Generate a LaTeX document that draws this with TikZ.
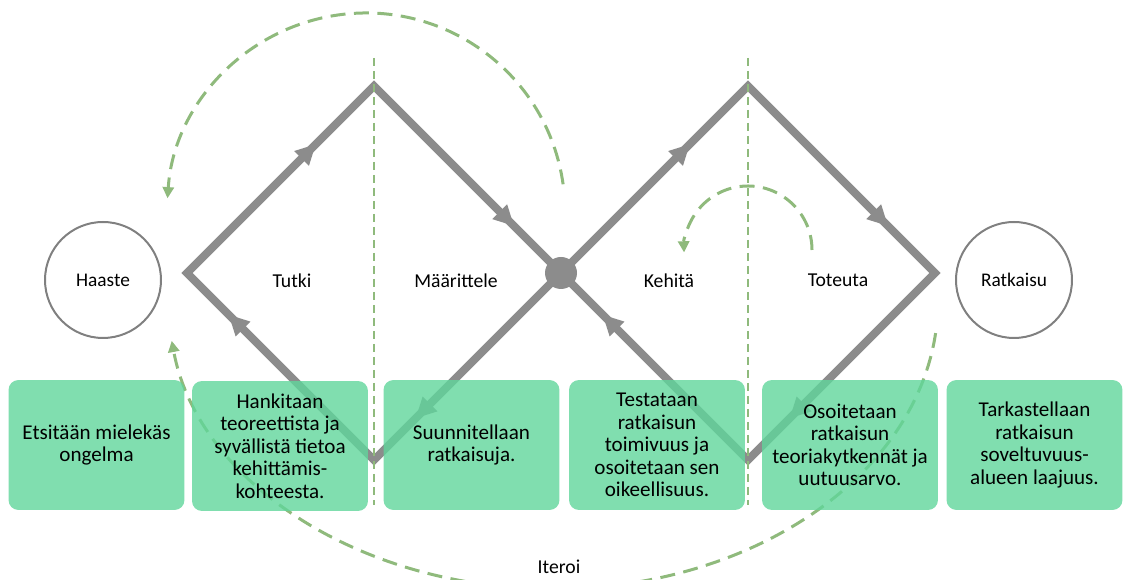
\documentclass[tikz,border=0pt]{standalone}
\usepackage{fontspec}
\setmainfont{Carlito}
\usetikzlibrary{arrows.meta,decorations.markings}

\definecolor{flowgrey}{RGB}{140,140,140}
\definecolor{ringgrey}{RGB}{128,128,128}
\definecolor{itergreen}{RGB}{143,186,124}
\definecolor{boxgreen}{RGB}{96,214,155}

\tikzset{
  flow/.style={draw=flowgrey, line width=0.16cm, line join=miter},
  flowhead/.tip={Triangle[length=0.4cm, width=0.42cm, line width=0pt]},
  flowloop/.style={postaction={decorate, decoration={markings,
      mark=at position 0.172 with {\arrow{flowhead}},
      mark=at position 0.437 with {\arrow{flowhead}},
      mark=at position 0.694 with {\arrow{flowhead}},
      mark=at position 0.944 with {\arrow{flowhead}}}}},
  guide/.style={draw=itergreen, line width=0.04cm, dash pattern=on 0.16cm off 0.1cm},
  iterloop/.style={draw=itergreen, line width=0.06cm, dash pattern=on 0.3cm off 0.17cm,
      -{Triangle[length=0.22cm, width=0.24cm, line width=0pt]}},
  ring/.style={circle, draw=ringgrey, line width=0.04cm, minimum size=2.32cm, inner sep=0pt,
      font=\fontsize{11}{13}\selectfont},
  hubdot/.style={circle, fill=flowgrey, minimum size=0.64cm, inner sep=0pt},
  lbl/.style={font=\fontsize{11.2}{13}\selectfont, inner sep=1pt},
  box/.style={rounded corners=0.2cm, fill=boxgreen, fill opacity=0.8, text opacity=1,
      minimum width=3.52cm, minimum height=2.6cm, align=center, inner sep=2pt,
      font=\fontsize{12}{12.8}\selectfont}
}

\begin{document}
\begin{tikzpicture}[x=0.02cm, y=0.02cm]
\clip (0,0) rectangle (1123,580);

% iteration loops
\coordinate (topstart) at (563.1,395.7);
\draw[iterloop] (topstart) arc[start angle=8, end angle=176, radius=199];
\coordinate (midstart) at (812,330);
\draw[iterloop] (midstart) arc[start angle=0, end angle=182, radius=64];
\coordinate (lowstart) at (935.6,246.9);
\draw[iterloop] (lowstart) arc[start angle=-6.4, end angle=-172, x radius=385, y radius=288];

% double diamond
\coordinate (l1) at (187,307);
\coordinate (t1) at (374,494);
\coordinate (c)  at (561,307);
\coordinate (b1) at (374,120);
\coordinate (t2) at (748,494);
\coordinate (r2) at (935,307);
\coordinate (b2) at (748,120);
\draw[flow, flowloop] (l1) -- (t1) -- (c) -- (b1) -- cycle;
\draw[flow, flowloop] (c) -- (t2) -- (r2) -- (b2) -- cycle;
\node[hubdot] (hub) at (c) {};

% phase dividers
\coordinate (g1top) at (374,522);
\coordinate (g1bot) at (374,75);
\coordinate (g2top) at (748,522);
\coordinate (g2bot) at (748,75);
\draw[guide] (g1top) -- (g1bot);
\draw[guide] (g2top) -- (g2bot);

% start and end
\node[ring] (haaste) at (103,300) {Haaste};
\node[ring] (ratkaisu) at (1014,300) {Ratkaisu};

% phase names
\node[lbl] (tutki) at (292,299) {Tutki};
\node[lbl] (maarittele) at (456,299) {Määrittele};
\node[lbl] (kehita) at (669,299) {Kehitä};
\node[lbl] (toteuta) at (838,300) {Toteuta};
\node[lbl] (iteroi) at (559,13) {Iteroi};

% phase descriptions
\node[box] (d1) at (96.5,135) {Etsitään mielekäs\\ongelma};
\node[box] (d2) at (280,134) {Hankitaan\\teoreettista ja\\syvällistä tietoa\\kehittämis-\\kohteesta.};
\node[box] (d3) at (471.5,135) {Suunnitellaan\\ratkaisuja.};
\node[box] (d4) at (657,135) {Testataan\\ratkaisun\\toimivuus ja\\osoitetaan sen\\oikeellisuus.};
\node[box] (d5) at (850,135) {Osoitetaan\\ratkaisun\\teoriakytkennät ja\\uutuusarvo.};
\node[box] (d6) at (1034.5,135) {Tarkastellaan\\ratkaisun\\soveltuvuus-\\alueen laajuus.};
\end{tikzpicture}
\end{document}
